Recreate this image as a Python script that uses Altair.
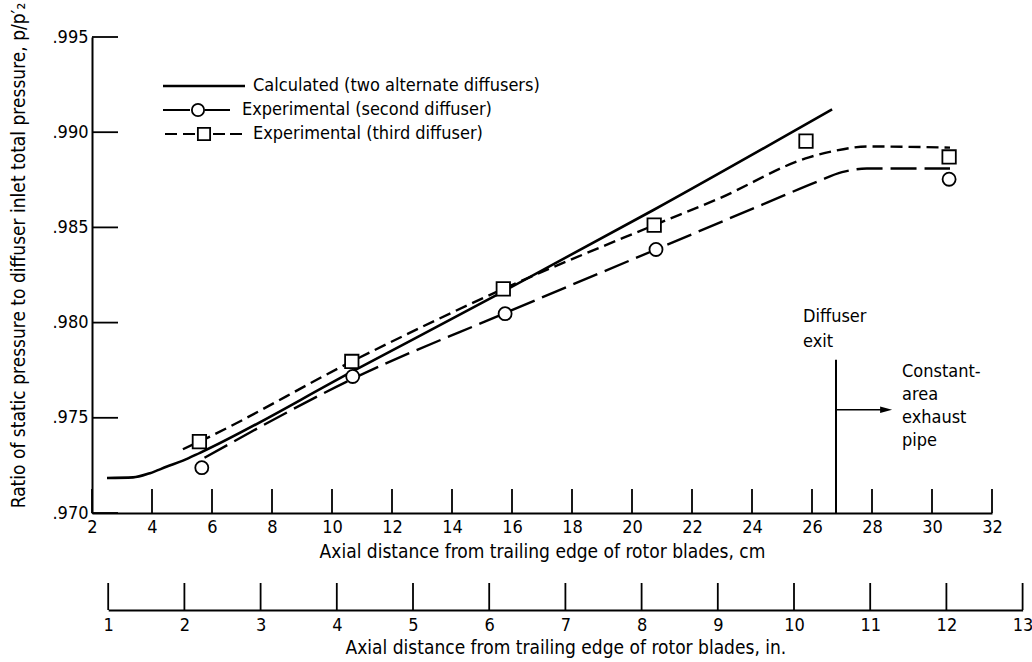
import altair as alt
import pandas as pd

# Calculated static-pressure ratio, valid for both diffusers (x in cm from rotor trailing edge)
calc_cm = [2.5, 3.37, 3.93, 4.5, 5.03, 5.6, 10.7, 15.7, 20.7, 26.67]
calc_ratio = [0.97184, 0.97187, 0.97209, 0.97244, 0.97275, 0.97316, 0.97745, 0.98163, 0.98590, 0.99120]

# Second diffuser: measured points and faired curve
second_cm = [5.66, 10.69, 15.77, 20.8, 30.57]
second_ratio = [0.97238, 0.97717, 0.98047, 0.98384, 0.98753]
second_fair_cm = [5.75, 10.69, 15.77, 20.8, 24.5, 26.17, 27.0, 27.83, 30.6]
second_fair_ratio = [0.97290, 0.97705, 0.98050, 0.98384, 0.98630, 0.98740, 0.98790, 0.98809, 0.98809]

# Third diffuser: measured points and faired curve
third_cm = [5.58, 10.66, 15.71, 20.74, 25.8, 30.57]
third_ratio = [0.97375, 0.97796, 0.98177, 0.98512, 0.98953, 0.98870]
third_fair_cm = [5.03, 5.58, 10.66, 15.71, 20.74, 22.93, 25.9, 26.7, 27.83, 30.6]
third_fair_ratio = [0.97335, 0.97375, 0.97796, 0.98177, 0.98512, 0.98654, 0.98868, 0.98900, 0.98925, 0.98919]

# Axis tick values
cm_ticks = list(range(2, 33, 2))
inch_ticks = list(range(1, 14))
ratio_ticks = [0.970, 0.975, 0.980, 0.985, 0.990, 0.995]

# Diffuser exit station and the arrow into the exhaust pipe
exit_cm = 26.8
exit_top_ratio = 0.97805
arrow_ratio = 0.97542
arrow_end_cm = 28.47

legend_labels = [
    "Calculated (two alternate diffusers)",
    "Experimental (second diffuser)",
    "Experimental (third diffuser)",
]

FONT = "Liberation Sans Narrow, DejaVu Sans Condensed, Arial Narrow, sans-serif"
W, H = 900, 476
INCH_OFFSET = 97

x_cm = alt.Scale(domain=[2, 32], nice=False, zero=False)
y_ratio = alt.Scale(domain=[0.970, 0.995], nice=False, zero=False)

calc_df = pd.DataFrame({"cm": calc_cm, "ratio": calc_ratio})
second_df = pd.DataFrame({"cm": second_cm, "ratio": second_ratio})
second_fair_df = pd.DataFrame({"cm": second_fair_cm, "ratio": second_fair_ratio})
third_df = pd.DataFrame({"cm": third_cm, "ratio": third_ratio})
third_fair_df = pd.DataFrame({"cm": third_fair_cm, "ratio": third_fair_ratio})

cm_axis = alt.Axis(
    values=cm_ticks, ticks=False, grid=False, labelFlush=False, labelOverlap=False,
    domainColor="black", domainWidth=2, labelFont=FONT, labelFontSize=18,
    labelColor="black", labelPadding=5, titleFont=FONT, titleFontSize=19,
    titleFontWeight="normal", titleColor="black", titlePadding=6,
    title="Axial distance from trailing edge of rotor blades,  cm",
)
ratio_axis = alt.Axis(
    values=ratio_ticks, ticks=False, grid=False, labelFlush=False, labelOverlap=False,
    labelExpr="substring(format(datum.value, '.3f'), 1)",
    domainColor="black", domainWidth=2, labelFont=FONT, labelFontSize=18,
    labelColor="black", labelPadding=4, titleFont=FONT, titleFontSize=19,
    titleFontWeight="normal", titleColor="black",
    titleX=-74, titleY=218, titleAlign="center", titleBaseline="middle",
    title="Ratio of static pressure to diffuser inlet total pressure,  p/p\u2032\u2082",
)

calc_line = alt.Chart(calc_df).mark_line(
    color="black", strokeWidth=2.6, interpolate="monotone"
).encode(
    x=alt.X("cm:Q", scale=x_cm, axis=cm_axis),
    y=alt.Y("ratio:Q", scale=y_ratio, axis=ratio_axis),
)

second_line = alt.Chart(second_fair_df).mark_line(
    color="black", strokeWidth=2.4, strokeDash=[26, 8], interpolate="monotone"
).encode(x=alt.X("cm:Q", scale=x_cm), y=alt.Y("ratio:Q", scale=y_ratio))

third_line = alt.Chart(third_fair_df).mark_line(
    color="black", strokeWidth=2.4, strokeDash=[12, 6], interpolate="monotone"
).encode(x=alt.X("cm:Q", scale=x_cm), y=alt.Y("ratio:Q", scale=y_ratio))

second_pts = alt.Chart(second_df).mark_point(
    shape="circle", size=170, filled=True, fill="white", stroke="black",
    strokeWidth=1.8, opacity=1
).encode(x=alt.X("cm:Q", scale=x_cm), y=alt.Y("ratio:Q", scale=y_ratio))

third_pts = alt.Chart(third_df).mark_point(
    shape="square", size=180, filled=True, fill="white", stroke="black",
    strokeWidth=1.8, opacity=1
).encode(x=alt.X("cm:Q", scale=x_cm), y=alt.Y("ratio:Q", scale=y_ratio))

# Inward-pointing tick marks on the cm and ratio axes
cm_tick_marks = alt.Chart(pd.DataFrame({"cm": cm_ticks})).mark_rule(
    color="black", strokeWidth=1.8
).encode(x=alt.X("cm:Q", scale=x_cm), y=alt.value(H), y2=alt.value(H - 24))

ratio_tick_marks = alt.Chart(pd.DataFrame({"ratio": ratio_ticks})).mark_rule(
    color="black", strokeWidth=1.8
).encode(y=alt.Y("ratio:Q", scale=y_ratio), x=alt.value(0), x2=alt.value(26))

# Diffuser exit station and arrow
exit_df = pd.DataFrame({"cm": [exit_cm], "ratio": [0.970], "ratio2": [exit_top_ratio]})
exit_line = alt.Chart(exit_df).mark_rule(color="black", strokeWidth=2).encode(
    x=alt.X("cm:Q", scale=x_cm), y=alt.Y("ratio:Q", scale=y_ratio), y2="ratio2:Q"
)
arrow_df = pd.DataFrame({"cm": [exit_cm], "cm2": [arrow_end_cm], "ratio": [arrow_ratio]})
arrow_shaft = alt.Chart(arrow_df).mark_rule(color="black", strokeWidth=1.6).encode(
    x=alt.X("cm:Q", scale=x_cm), x2="cm2:Q", y=alt.Y("ratio:Q", scale=y_ratio)
)
arrow_head = alt.Chart(arrow_df).mark_point(
    shape="M-1,-0.55L1,0L-1,0.55Z", size=144, filled=True, color="black", opacity=1
).encode(x=alt.X("cm2:Q", scale=x_cm), y=alt.Y("ratio:Q", scale=y_ratio))

text_kw = dict(font=FONT, fontSize=18, color="black", align="left", baseline="middle")
one = pd.DataFrame({"k": [0]})

diffuser_txt = alt.Chart(one).mark_text(lineBreak="\n", lineHeight=25, **text_kw).encode(
    x=alt.value(711), y=alt.value(280), text=alt.value("Diffuser\nexit")
)
pipe_txt = alt.Chart(one).mark_text(lineBreak="\n", lineHeight=23, **text_kw).encode(
    x=alt.value(810), y=alt.value(335), text=alt.value("Constant-\narea\nexhaust\npipe")
)

# Legend
leg_y = [49, 73, 97]
legend_parts = []
legend_parts.append(alt.Chart(one).mark_rule(color="black", strokeWidth=2.6).encode(
    x=alt.value(71), x2=alt.value(153), y=alt.value(leg_y[0])))
legend_parts.append(alt.Chart(one).mark_rule(color="black", strokeWidth=2).encode(
    x=alt.value(71), x2=alt.value(98), y=alt.value(leg_y[1])))
legend_parts.append(alt.Chart(one).mark_rule(color="black", strokeWidth=2).encode(
    x=alt.value(113), x2=alt.value(138), y=alt.value(leg_y[1])))
legend_parts.append(alt.Chart(one).mark_point(
    shape="circle", size=150, filled=True, fill="white", stroke="black", strokeWidth=1.8, opacity=1
).encode(x=alt.value(106), y=alt.value(leg_y[1])))
legend_parts.append(alt.Chart(one).mark_rule(color="black", strokeWidth=2, strokeDash=[12, 6]).encode(
    x=alt.value(73), x2=alt.value(103), y=alt.value(leg_y[2])))
legend_parts.append(alt.Chart(one).mark_rule(color="black", strokeWidth=2, strokeDash=[12, 5]).encode(
    x=alt.value(121), x2=alt.value(150), y=alt.value(leg_y[2])))
legend_parts.append(alt.Chart(one).mark_point(
    shape="square", size=150, filled=True, fill="white", stroke="black", strokeWidth=1.8, opacity=1
).encode(x=alt.value(112), y=alt.value(leg_y[2])))
for lbl, ly, lx in zip(legend_labels, leg_y, [161, 150, 161]):
    legend_parts.append(alt.Chart(one).mark_text(**text_kw).encode(
        x=alt.value(lx), y=alt.value(ly), text=alt.value(lbl)))

cm_group = alt.layer(
    calc_line, second_line, third_line, second_pts, third_pts,
    cm_tick_marks, ratio_tick_marks, exit_line, arrow_shaft, arrow_head,
    diffuser_txt, pipe_txt, *legend_parts,
)

# Secondary inch scale: 1 in = 2.54 cm on the same pixel span
px_per_cm = W / 30.0
inch_scale = alt.Scale(
    domain=[1, 13], nice=False, zero=False,
    range=[(2.54 - 2) * px_per_cm, (13 * 2.54 - 2) * px_per_cm],
)
inch_axis = alt.Axis(
    orient="bottom", offset=INCH_OFFSET, values=inch_ticks, ticks=False, grid=False,
    labelFlush=False, labelOverlap=False, domainColor="black", domainWidth=2,
    labelFont=FONT, labelFontSize=18, labelColor="black", labelPadding=6,
    titleFont=FONT, titleFontSize=19, titleFontWeight="normal", titleColor="black",
    titlePadding=4, title="Axial distance from trailing edge of rotor blades,  in.",
)
inch_group = alt.Chart(pd.DataFrame({"inch": inch_ticks})).mark_rule(
    color="black", strokeWidth=1.8
).encode(
    x=alt.X("inch:Q", scale=inch_scale, axis=inch_axis),
    y=alt.value(H + INCH_OFFSET), y2=alt.value(H + INCH_OFFSET - 27),
)

chart = alt.layer(cm_group, inch_group).resolve_scale(x="independent").properties(
    width=W, height=H,
    autosize=alt.AutoSizeParams(type="none"),
    padding={"left": 92, "top": 37, "right": 40, "bottom": 149},
    background="white",
).configure_view(stroke=None)

chart.save("out.html", embed_options={"renderer": "svg", "actions": False})
